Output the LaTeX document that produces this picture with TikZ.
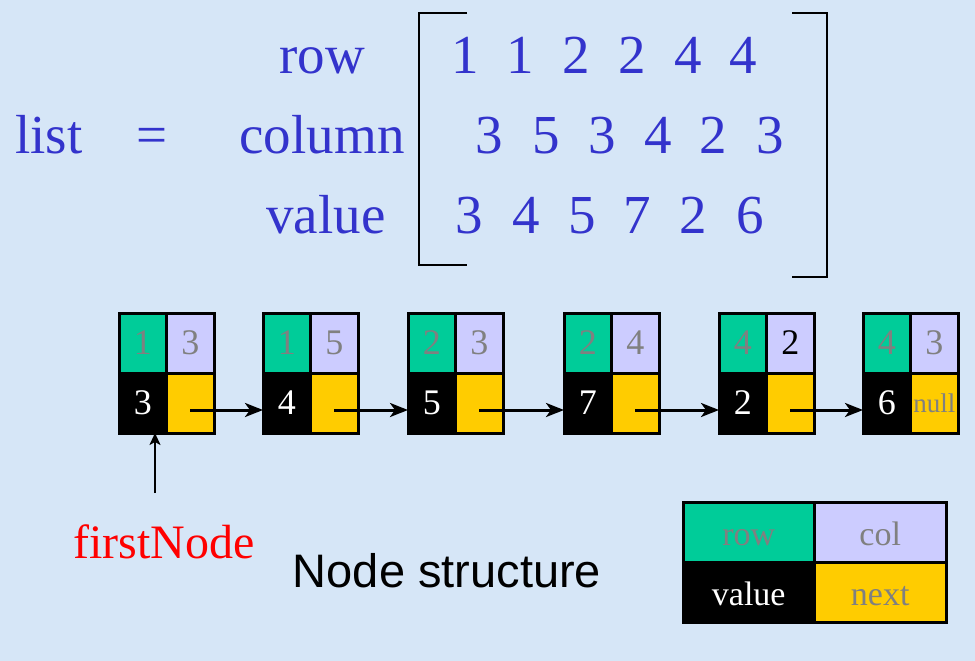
\documentclass[tikz,border=0pt]{standalone}
\usepackage{fontspec}
\setmainfont{Liberation Serif}
\newfontfamily\captionfont{Liberation Sans}
\usepackage{tikz}
\usetikzlibrary{positioning,arrows.meta}

\definecolor{bgblue}{RGB}{214,230,247}
\definecolor{txtblue}{RGB}{51,51,204}
\definecolor{rowgreen}{RGB}{0,204,153}
\definecolor{collav}{RGB}{204,204,255}
\definecolor{nextyel}{RGB}{255,204,0}
\definecolor{cellgray}{RGB}{128,128,128}

\begin{document}
\begin{tikzpicture}[x=1pt, y=-1pt,
    big/.style={text=txtblue, inner sep=0pt, anchor=base, font=\fontsize{55}{60}\selectfont},
    bracket/.style={line width=2.5pt},
    cell/.style={draw=black, line width=3pt, outer sep=0pt, inner sep=0pt,
      minimum width=47.5pt, minimum height=60pt, font=\fontsize{36}{40}\selectfont},
    rowcell/.style={cell, fill=rowgreen, text=cellgray},
    colcell/.style={cell, fill=collav, text=cellgray},
    valcell/.style={cell, fill=black, text=white},
    nextcell/.style={cell, fill=nextyel, text=cellgray},
    legend/.style={minimum width=131.5pt, text height=27pt, text depth=0pt, font=\fontsize{34}{38}\selectfont},
    link/.style={line width=3pt, -{Stealth[length=18pt, width=14pt, inset=5pt]}}]

    \fill[bgblue] (0,0) rectangle (975,661);

    \node[big, anchor=base west] (list) at (15,153) {list};
    \node[big] (eq) at (152,153) {=};
    \node[big] (lrow) at (322,74) {row};
    \node[big] (lcolumn) at (322,153) {column};
    \node[big] (lvalue) at (326,233) {value};

    \foreach \x/\d [count=\i] in {465/1,520/1,576/2,632/2,688/4,743/4}
      \node[big] (ra\i) at (\x,74) {\d};
    \foreach \x/\d [count=\i] in {489/3,546/5,602/3,658/4,713/2,770/3}
      \node[big] (rb\i) at (\x,153) {\d};
    \foreach \x/\d [count=\i] in {469/3,526/4,582/5,637/7,693/2,750/6}
      \node[big] (rc\i) at (\x,233) {\d};

    \draw[bracket] (467,13) -- (419,13) -- (419,265) -- (467,265);
    \draw[bracket] (792,13) -- (827,13) -- (827,277) -- (792,277);

    \node[rowcell, anchor=north west] (r1) at (119,313) {1};
    \node[colcell, right=0pt of r1] (c1) {3};
    \node[valcell, below=0pt of r1] (v1) {3};
    \node[nextcell, right=0pt of v1] (n1) {};

    \node[rowcell, anchor=north west] (r2) at (263,313) {1};
    \node[colcell, right=0pt of r2] (c2) {5};
    \node[valcell, below=0pt of r2] (v2) {4};
    \node[nextcell, right=0pt of v2] (n2) {};

    \node[rowcell, anchor=north west] (r3) at (408,313) {2};
    \node[colcell, right=0pt of r3] (c3) {3};
    \node[valcell, below=0pt of r3] (v3) {5};
    \node[nextcell, right=0pt of v3] (n3) {};

    \node[rowcell, anchor=north west] (r4) at (564,313) {2};
    \node[colcell, right=0pt of r4] (c4) {4};
    \node[valcell, below=0pt of r4] (v4) {7};
    \node[nextcell, right=0pt of v4] (n4) {};

    \node[rowcell, anchor=north west] (r5) at (719,313) {4};
    \node[colcell, right=0pt of r5, text=black] (c5) {2};
    \node[valcell, below=0pt of r5] (v5) {2};
    \node[nextcell, right=0pt of v5] (n5) {};

    \node[rowcell, anchor=north west] (r6) at (863,313) {4};
    \node[colcell, right=0pt of r6] (c6) {3};
    \node[valcell, below=0pt of r6] (v6) {6};
    \node[nextcell, right=0pt of v6, font=\fontsize{27}{30}\selectfont] (n6) {null};

    \draw[link] ([yshift=-7pt]n1.center) -- ([yshift=-7pt]v2.west);
    \draw[link] ([yshift=-7pt]n2.center) -- ([yshift=-7pt]v3.west);
    \draw[link] ([yshift=-7pt]n3.center) -- ([yshift=-7pt]v4.west);
    \draw[link] ([yshift=-7pt]n4.center) -- ([yshift=-7pt]v5.west);
    \draw[link] ([yshift=-7pt]n5.center) -- ([yshift=-7pt]v6.west);

    \coordinate (fn) at (155,493);
    \draw[line width=2pt, -{Stealth[length=12pt, width=11pt, inset=3pt]}] (fn) -- (fn |- v1.south);
    \node[text=red, inner sep=0pt, anchor=base, font=\fontsize{48}{52}\selectfont] (first) at (164,558) {firstNode};

    \node[inner sep=0pt, anchor=base, font=\captionfont\fontsize{47}{52}\selectfont] (caption) at (447,587) {Node structure};

    \node[rowcell, legend, anchor=north west] (grow) at (683,502) {row};
    \node[colcell, legend, right=0pt of grow] (gcol) {col};
    \node[valcell, legend, below=0pt of grow] (gval) {value};
    \node[nextcell, legend, right=0pt of gval] (gnext) {next};

\end{tikzpicture}
\end{document}
